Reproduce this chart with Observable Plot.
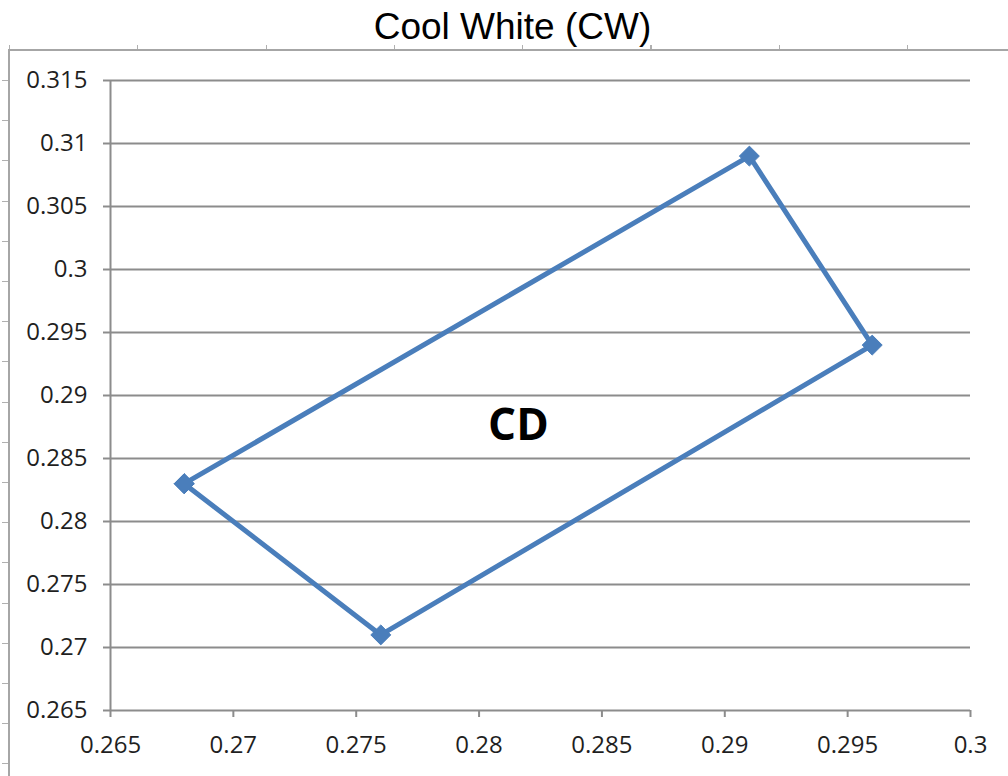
<!DOCTYPE html>
<html>
<head>
<meta charset="utf-8">
<script src="https://cdn.jsdelivr.net/npm/d3@7"></script>
<script src="https://cdn.jsdelivr.net/npm/@observablehq/plot@0.6"></script>
<style>
  html, body { margin: 0; padding: 0; background: #fff; }
  #wrap { position: relative; width: 1008px; height: 776px; overflow: hidden; background: #fff; }
  .deco { position: absolute; }
  #frame { left: 8px; top: 49px; right: -4px; bottom: -4px; border-left: 2px solid #a6a6a6; border-top: 2px solid #a6a6a6; }
  #topticks { left: 9px; top: 45px; width: 1000px; height: 4px;
    background: repeating-linear-gradient(to right, #b0b0b0 0 1px, transparent 1px 128.3px); }
  #leftticks { left: 2px; top: 80px; width: 6px; height: 700px;
    background: repeating-linear-gradient(to bottom, #b0b0b0 0 1px, transparent 1px 40.2px); }
  #chart { position: absolute; left: 0; top: 0; }
  #chart svg { background: transparent; }
</style>
</head>
<body>
<div id="wrap">
  <div class="deco" id="frame"></div>
  <div class="deco" id="topticks"></div>
  <div class="deco" id="leftticks"></div>
  <div id="chart"></div>
</div>
<script>
// Data: closed polygon of the CD chromaticity quadrangle
const pointX = [0.268, 0.276, 0.296, 0.291, 0.268];
const pointY = [0.283, 0.271, 0.294, 0.309, 0.283];

const xTicks = [0.265, 0.27, 0.275, 0.28, 0.285, 0.29, 0.295, 0.3];
const xTickLabels = ["0.265", "0.27", "0.275", "0.28", "0.285", "0.29", "0.295", "0.3"];
const yTicks = [0.265, 0.27, 0.275, 0.28, 0.285, 0.29, 0.295, 0.3, 0.305, 0.31, 0.315];
const yTickLabels = ["0.265", "0.27", "0.275", "0.28", "0.285", "0.29", "0.295", "0.3", "0.305", "0.31", "0.315"];

const regionLabel = ["CD"];
const regionLabelX = [0.2816];
const regionLabelY = [0.2876];

const title = "Cool White (CW)";

const pts = pointX.map((x, i) => ({x, y: pointY[i]}));
const labels = regionLabel.map((t, i) => ({t, x: regionLabelX[i], y: regionLabelY[i]}));

const blue = "#4A7EBB";
const gray = "#8c8c8c";
const tickFont = "Open Sans, sans-serif";

const chart = Plot.plot({
  width: 1008,
  height: 776,
  marginLeft: 110,
  marginRight: 38,
  marginTop: 80,
  marginBottom: 66,
  style: {background: "transparent", fontFamily: tickFont},
  x: {domain: [0.265, 0.3]},
  y: {domain: [0.265, 0.315]},
  marks: [
    Plot.ruleY(yTicks.slice(1), {stroke: gray, strokeWidth: 2, strokeOpacity: 1}),
    Plot.ruleX([xTicks[0]], {stroke: gray, strokeWidth: 2}),
    Plot.ruleY([yTicks[0]], {stroke: gray, strokeWidth: 2}),
    Plot.axisX({
      ticks: xTicks,
      tickFormat: (d) => xTickLabels[xTicks.indexOf(d)],
      tickSize: 7, tickPadding: 18, stroke: gray, strokeWidth: 2, strokeOpacity: 1,
      fontSize: 24, fill: "#1f1f1f", label: null
    }),
    Plot.axisY({
      ticks: yTicks,
      tickFormat: (d) => yTickLabels[yTicks.indexOf(d)],
      tickSize: 7, tickPadding: 16, stroke: gray, strokeWidth: 2, strokeOpacity: 1,
      fontSize: 24, fill: "#1f1f1f", label: null
    }),
    Plot.line(pts, {x: "x", y: "y", stroke: blue, strokeWidth: 5, curve: "linear"}),
    Plot.dot(pts, {x: "x", y: "y", symbol: "diamond2", fill: blue, stroke: blue, strokeWidth: 1, r: 9}),
    Plot.text(labels, {x: "x", y: "y", text: "t", fontSize: 44, fontWeight: "bold", fill: "#000", fontFamily: "Open Sans, sans-serif"}),
    Plot.text([title], {frameAnchor: "top", dx: -28, dy: -53, text: (d) => d, fontSize: 37, fill: "#000", fontFamily: "Liberation Sans, Arial, sans-serif", lineAnchor: "middle"})
  ]
});
document.getElementById("chart").appendChild(chart);
</script>
</body>
</html>
